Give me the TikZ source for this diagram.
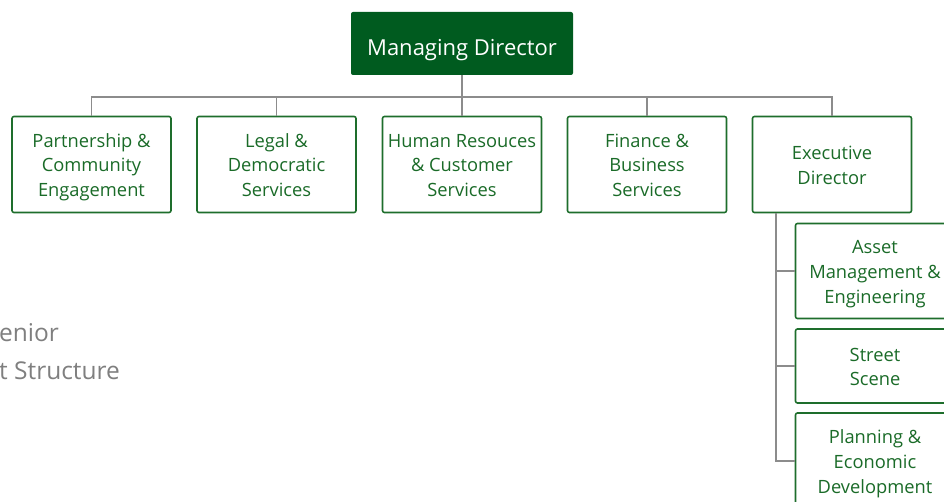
\documentclass[tikz,border=0pt]{standalone}
\usepackage{fontspec}
\setmainfont{Open Sans}
\definecolor{mdgreen}{HTML}{005B1F}
\definecolor{bgreen}{HTML}{1E6E2C}
\definecolor{tgreen}{HTML}{1A6B28}
\definecolor{conn}{HTML}{8C8C8C}
\definecolor{gtext}{HTML}{7F7F7F}
\newcommand\tstrut{\rule{0pt}{20pt}}
\newcommand\bstrut{\rule[-5pt]{0pt}{5pt}}
\begin{document}
\begin{tikzpicture}[x=1pt,y=-1pt,
  box/.style={draw=bgreen, line width=1.6pt, rounded corners=2pt, fill=white,
    text=tgreen, align=center, inner sep=0pt,
    font=\fontsize{18.3}{24.6}\selectfont,
    minimum width=159pt, minimum height=96pt},
  mdbox/.style={fill=mdgreen, rounded corners=2pt, inner sep=0pt,
    minimum width=222pt, minimum height=63pt},
  mdtext/.style={text=white, inner sep=0pt, anchor=base,
    font=\fontsize{22}{26}\selectfont},
  conn/.style={draw=conn, line width=1.2pt},
  gray label/.style={text=gtext, anchor=west, inner sep=0pt,
    font=\fontsize{24.5}{30}\selectfont}]
\useasboundingbox (0,0) rectangle (944,502);
\clip (0,0) rectangle (944,502);
\node[mdbox] (md) at (462,43.5) {};
\node[mdtext] (mdt) at (462,56) {Managing Director};
\coordinate (bus) at (462,97);
\coordinate (trunk) at (776,213);
\node[box] (pc) at (91.5,164.5) {\tstrut Partnership \&\\Community\\Engagement\bstrut};
\node[box] (ld) at (276.5,164.5) {\tstrut Legal \&\\Democratic\\Services\bstrut};
\node[box] (hr) at (462,164.5) {\tstrut Human Resouces\\\& Customer\\Services\bstrut};
\node[box] (fb) at (647,164.5) {\tstrut Finance \&\\Business\\Services\bstrut};
\node[box] (ed) at (832,164.5) {\tstrut Executive\\Director\bstrut};
\node[box, minimum height=95pt] (am) at (875,271) {\tstrut Asset\\Management \&\\Engineering\bstrut};
\node[box, minimum height=74pt] (ss) at (875,366) {\tstrut Street\\Scene\bstrut};
\node[box] (pe) at (875,461) {\tstrut Planning \&\\Economic\\Development\bstrut};
\draw[conn] (md.south) -- (hr.north);
\draw[conn] (pc.north) |- (bus) -| (ed.north);
\draw[conn] (ld.north) -- (ld.north |- bus);
\draw[conn] (fb.north) -- (fb.north |- bus);
\draw[conn] (trunk) |- (pe.west);
\draw[conn] (trunk |- am.west) -- (am.west);
\draw[conn] (trunk |- ss.west) -- (ss.west);
\node[gray label] (t1) at (-1,333) {enior};
\node[gray label] (t2) at (-1,371) {t Structure};
\end{tikzpicture}
\end{document}
